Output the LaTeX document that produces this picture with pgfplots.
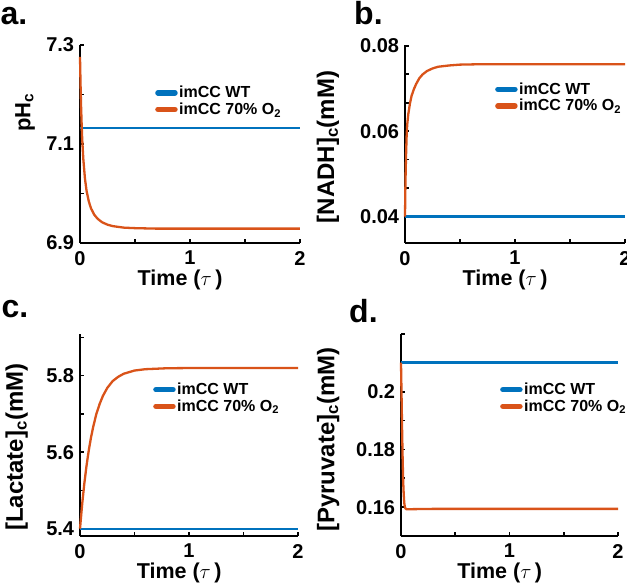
\documentclass[border=0pt]{standalone}
\usepackage{fontspec}
\setmainfont{Liberation Sans}
\usepackage{pgfplots}
\pgfplotsset{compat=1.18}
\definecolor{mblue}{rgb}{0,0.447,0.741}
\definecolor{morange}{rgb}{0.85,0.325,0.098}
\pgfplotsset{
  panel/.style={
    scale only axis,
    xmin=0, xmax=2,
    axis x line*=bottom, axis y line*=left,
    axis line style={line width=2.6pt, black, -},
    tick style={line width=1.6pt, black},
    major tick length=4pt, minor tick length=4pt,
    tick align=inside,
    xtick={0,1,2}, xticklabels={0,1,2},
    minor xtick={0.5,1.5},
    scaled ticks=false,
    ticklabel style={font=\fontsize{20}{22}\selectfont\bfseries, inner sep=1pt},
    xticklabel style={yshift=-7pt},
    yticklabel style={xshift=-4.7pt},
    label style={font=\fontsize{24}{26}\selectfont\bfseries},
    xlabel={Time ($\tau$\,)},
    xlabel style={font=\fontsize{21.5}{23}\selectfont\bfseries, at={(axis description cs:0.455,0)}, anchor=north, yshift=-23pt},
    clip=false,
    legend cell align=left,
    legend style={draw=none, fill=none, inner sep=0pt,
      font=\fontsize{16}{18}\selectfont\bfseries,
      row sep=0.5pt,
      nodes={inner sep=1.5pt}},
    legend image code/.code={\draw[#1, line width=5.5pt, line cap=round] (3pt,0pt) -- (20pt,0pt);},
    every axis plot/.append style={line width=2.3pt},
  }
}
\begin{document}
\begin{tikzpicture}[x=1pt,y=1pt]
\useasboundingbox (0,0) rectangle (627,582);

% panel a
\begin{axis}[panel, at={(80pt,339pt)}, anchor=south west, width=220pt, height=198pt,
  ymin=6.9, ymax=7.3, ytick={6.9,7.1,7.3}, yticklabels={6.9,7.1,7.3}, minor ytick={7.0,7.2},
  ylabel={pH\textsubscript{c}},
  ylabel style={font=\fontsize{22}{24}\selectfont\bfseries, at={(axis description cs:-0.25,0.66)}, anchor=center},
  legend style={at={(axis description cs:0.341,0.80)}, anchor=north west}]
\addplot[mblue] coordinates {(0,7.132) (2,7.132)};
\addlegendentry{imCC WT}
\addplot[morange] coordinates {(0,7.276) (0.005,7.22) (0.01,7.175) (0.015,7.14) (0.02,7.11) (0.03,7.07) (0.045,7.03) (0.06,7.005) (0.08,6.984) (0.1,6.970) (0.13,6.957) (0.16,6.949) (0.2,6.942) (0.25,6.937) (0.3,6.934) (0.4,6.931) (0.5,6.930) (0.7,6.929) (1,6.929) (1.5,6.929) (2,6.929)};
\addlegendentry{imCC 70\% O\textsubscript{2}}
\end{axis}

% panel b
\begin{axis}[panel, at={(405pt,339pt)}, anchor=south west, width=220pt, height=198pt,
  ymin=0.0338, ymax=0.0802, ytick={0.04,0.06,0.08}, yticklabels={0.04,0.06,0.08},
  minor ytick={0.046667,0.053333,0.066667,0.073333},
  ylabel={[NADH]\textsubscript{c}(mM)},
  ylabel style={at={(axis description cs:-0.35,0.485)}, anchor=center},
  legend style={at={(axis description cs:0.409,0.818)}, anchor=north west}]
\addplot[mblue] coordinates {(0,0.04) (2,0.04)};
\addlegendentry{imCC WT}
\addplot[morange] coordinates {(0,0.040) (0.003,0.046) (0.006,0.0505) (0.01,0.0548) (0.015,0.0590) (0.02,0.0615) (0.03,0.0640) (0.045,0.0665) (0.06,0.0683) (0.08,0.0698) (0.1,0.0710) (0.13,0.0724) (0.16,0.0733) (0.2,0.0741) (0.25,0.0747) (0.3,0.0751) (0.4,0.0754) (0.5,0.0756) (0.7,0.0757) (1,0.0757) (2,0.0757)};
\addlegendentry{imCC 70\% O\textsubscript{2}}
\end{axis}

% panel c
\begin{axis}[panel, at={(80pt,46pt)}, anchor=south west, width=218pt, height=202pt,
  ymin=5.381, ymax=5.909, ytick={5.4,5.6,5.8}, yticklabels={5.4,5.6,5.8}, minor ytick={5.5,5.7,5.9},
  ylabel={[Lactate]\textsubscript{c}(mM)},
  ylabel style={at={(axis description cs:-0.29,0.44)}, anchor=center},
  legend style={at={(axis description cs:0.335,0.765)}, anchor=north west}]
\addplot[mblue] coordinates {(0,5.4) (2,5.4)};
\addlegendentry{imCC WT}
\addplot[morange] coordinates {(0,5.400) (0.02,5.4645) (0.04,5.519) (0.06,5.565) (0.08,5.604) (0.10,5.637) (0.12,5.665) (0.15,5.700) (0.18,5.726) (0.21,5.747) (0.25,5.768) (0.30,5.786) (0.35,5.797) (0.40,5.805) (0.50,5.8135) (0.60,5.817) (0.80,5.8195) (1.0,5.820) (2.0,5.820)};
\addlegendentry{imCC 70\% O\textsubscript{2}}
\end{axis}

% panel d
\begin{axis}[panel, at={(401pt,46pt)}, anchor=south west, width=217pt, height=202pt,
  ymin=0.15, ymax=0.22, ytick={0.16,0.18,0.2}, yticklabels={0.16,0.18,0.2}, minor ytick={0.17,0.19,0.21,0.22},
  ylabel={[Pyruvate]\textsubscript{c}(mM)},
  ylabel style={at={(axis description cs:-0.336,0.478)}, anchor=center},
  legend style={at={(axis description cs:0.456,0.765)}, anchor=north west}]
\addplot[mblue] coordinates {(0,0.2101) (2,0.2101)};
\addlegendentry{imCC WT}
\addplot[morange] coordinates {(0,0.2101) (0.005,0.199) (0.01,0.187) (0.015,0.177) (0.02,0.169) (0.025,0.1645) (0.03,0.1615) (0.035,0.1602) (0.04,0.1596) (0.05,0.1593) (0.1,0.1593) (0.3,0.1594) (2,0.1594)};
\addlegendentry{imCC 70\% O\textsubscript{2}}
\end{axis}

\node[anchor=base west, inner sep=0pt, font=\fontsize{32}{34}\selectfont\bfseries] at (0.5,557) {a.};
\node[anchor=base west, inner sep=0pt, font=\fontsize{32}{34}\selectfont\bfseries] at (354,557) {b.};
\node[anchor=base west, inner sep=0pt, font=\fontsize{32}{34}\selectfont\bfseries] at (1.5,264) {c.};
\node[anchor=base west, inner sep=0pt, font=\fontsize{32}{34}\selectfont\bfseries] at (349,259) {d.};
\end{tikzpicture}
\end{document}
